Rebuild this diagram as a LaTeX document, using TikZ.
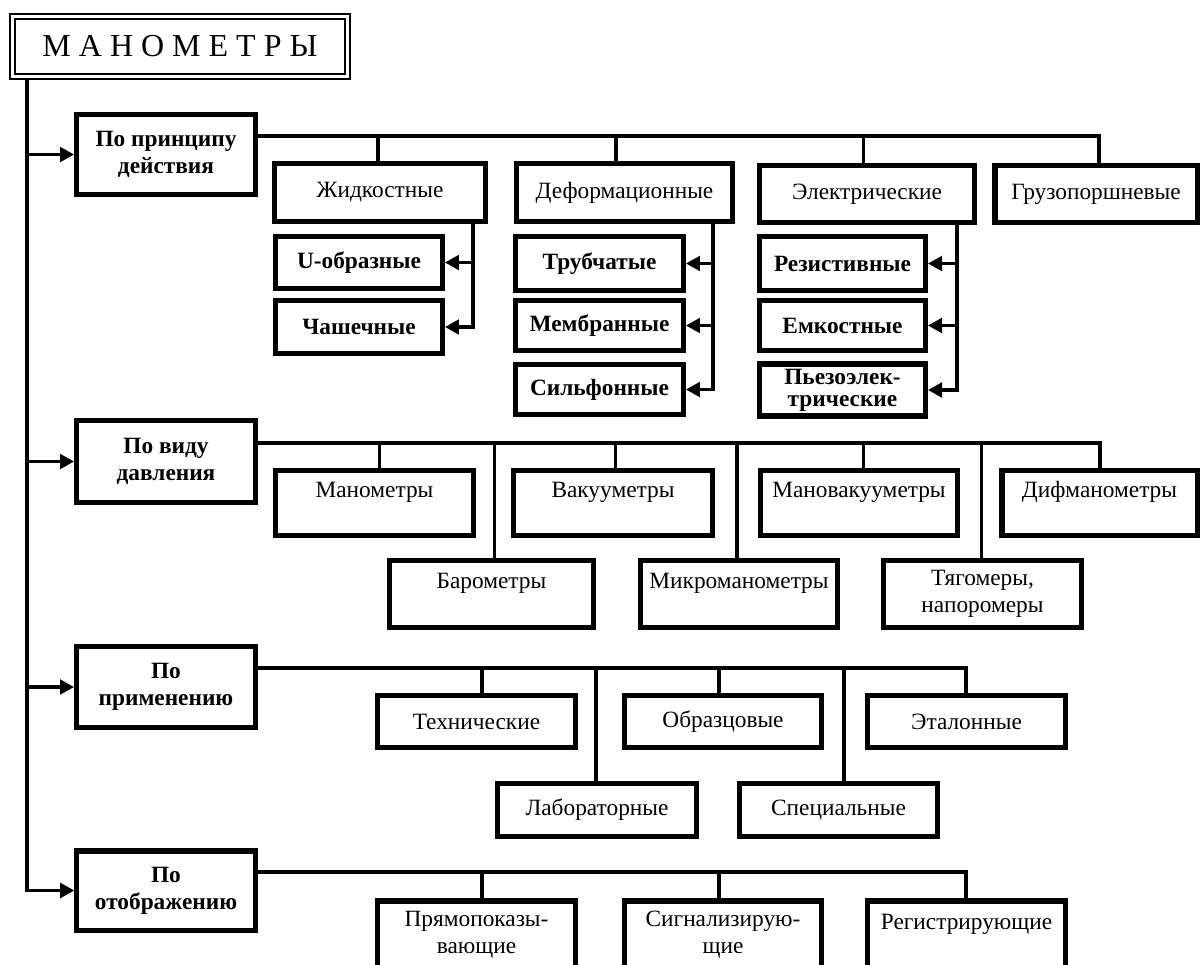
\documentclass[tikz,border=0pt]{standalone}
\usepackage{fontspec}
\setmainfont{Liberation Serif}
\usetikzlibrary{arrows.meta}
\tikzset{
  box/.style={draw, line width=4.1pt, inner sep=1pt, align=center,
    font=\fontsize{17.5}{20}\selectfont},
  boldbox/.style={box, font=\fontsize{17.5}{20}\selectfont\bfseries},
  titlebox/.style={draw, line width=1.8pt, double, double distance=2.2pt,
    inner sep=0pt, font=\fontsize{24}{28}\selectfont},
  conn/.style={line width=2.3pt},
  arr/.style={conn, -{Triangle[length=10.5pt,width=11pt]}}
}
% #1 extra style, #2 name, #3 x1, #4 y1, #5 x2, #6 y2 (outer edges, px), #7 text
\newcommand\bx[7][box]{%
  \node[#1, minimum width={(#5-#3-5.5)*0.75pt}, minimum height={(#6-#4-5.5)*0.75pt}]
    (#2) at ({(#3+#5)/2},{(#4+#6)/2}) {#7};}
\begin{document}
\begin{tikzpicture}[x=0.75pt,y=-0.75pt]
\useasboundingbox (0,0) rectangle (1201,964);
\clip (0,0) rectangle (1201,964);

% title
\node[titlebox, minimum width=335*0.75pt, minimum height=60*0.75pt] (title) at (180,46.5) {М А Н О М Е Т Р Ы};

% category boxes
\bx[boldbox]{pp}{74}{112}{258}{197}{По принципу\\действия}
\bx[boldbox]{pv}{74}{418}{258}{505}{По виду\\давления}
\bx[boldbox]{pr}{74}{644}{258}{730}{По\\применению}
\bx[boldbox]{po}{74}{848}{258}{933}{По\\отображению}

% main spine
\coordinate (spine) at (27,0);
\draw[arr] (title.south -| spine) -- (po.west -| spine) -- (po.west);
\draw[arr] (pp.west -| spine) -- (pp.west);
\draw[arr] (pv.west -| spine) -- (pv.west);
\draw[arr] (pr.west -| spine) -- (pr.west);

% ---------- row 1: principle ----------
\bx{zh}{272}{161}{488}{224}{Жидкостные}
\bx{df}{514}{161}{735}{224}{Деформационные}
\bx{el}{757}{163}{977}{225}{Электрические}
\bx{gp}{992}{163}{1200}{225}{Грузопоршневые}

\bx[boldbox]{uo}{273}{234}{445}{291}{U-образные}
\bx[boldbox]{cs}{273}{298}{445}{356}{Чашечные}
\bx[boldbox]{tr}{513}{234}{686}{293}{Трубчатые}
\bx[boldbox]{mb}{513}{298}{686}{353}{Мембранные}
\bx[boldbox]{sf}{513}{362}{686}{417}{Сильфонные}
\bx[boldbox]{rz}{757}{234}{928}{293}{Резистивные}
\bx[boldbox]{em}{757}{298}{928}{353}{Емкостные}
\bx[boldbox]{pz}{757}{363}{928}{417}{\raisebox{-7pt}{\begin{tabular}{@{}c@{}}Пьезоэлек-\\[-3pt]трические\end{tabular}}}
\draw[line width=4.1pt] ([yshift=2.05pt]pz.south west) -- ([yshift=2.05pt]pz.south east);

\coordinate (b1) at (1099,136);
\draw[conn] (pp.east |- b1) -- (b1) -- (b1 |- gp.north);
\draw[conn] ([xshift=-1.5pt]zh.north) -- ([xshift=-1.5pt]zh.north |- b1);
\draw[conn] ([xshift=-6.4pt]df.north) -- ([xshift=-6.4pt]df.north |- b1);
\draw[conn] ([xshift=-2.3pt]el.north) -- ([xshift=-2.3pt]el.north |- b1);

\coordinate (zv) at (473,0);
\coordinate (dv) at (713,0);
\coordinate (ev) at (957,0);
\draw[arr] (zh.south -| zv) -- (cs.east -| zv) -- (cs.east);
\draw[arr] (uo.east -| zv) -- (uo.east);
\draw[arr] (df.south -| dv) -- (sf.east -| dv) -- (sf.east);
\draw[arr] (tr.east -| dv) -- (tr.east);
\draw[arr] (mb.east -| dv) -- (mb.east);
\draw[arr] (el.south -| ev) -- (pz.east -| ev) -- (pz.east);
\draw[arr] (rz.east -| ev) -- (rz.east);
\draw[arr] (em.east -| ev) -- (em.east);

% ---------- row 2: pressure kind ----------
\bx{mn}{273}{468}{476}{538}{Манометры\\~}
\bx{vk}{511}{468}{715}{538}{Вакууметры\\~}
\bx{mv}{758}{468}{960}{538}{Мановакууметры\\~}
\bx{dm}{999}{468}{1200}{538}{Дифманометры\\~}
\bx{br}{387}{558}{596}{630}{Барометры\\~}
\bx{mk}{638}{558}{840}{630}{Микроманометры\\~}
\bx{tg}{881}{558}{1084}{630}{Тягомеры,\\напоромеры}

\coordinate (b2) at (1100,443);
\draw[conn] (pv.east |- b2) -- (b2) -- (b2 |- dm.north);
\draw[conn] ([xshift=3.4pt]mn.north) -- ([xshift=3.4pt]mn.north |- b2);
\draw[conn] ([xshift=1.9pt]br.north) -- ([xshift=1.9pt]br.north |- b2);
\draw[conn] ([xshift=2.2pt]vk.north) -- ([xshift=2.2pt]vk.north |- b2);
\draw[conn] ([xshift=-1.5pt]mk.north) -- ([xshift=-1.5pt]mk.north |- b2);
\draw[conn] ([xshift=3.7pt]mv.north) -- ([xshift=3.7pt]mv.north |- b2);
\draw[conn] ([xshift=-1.1pt]tg.north) -- ([xshift=-1.1pt]tg.north |- b2);

% ---------- row 3: application ----------
\bx{th}{375}{693}{578}{750}{Технические}
\bx{ob}{622}{693}{824}{750}{Образцовые}
\bx{et}{865}{693}{1068}{750}{Эталонные}
\bx{lb}{495}{781}{699}{839}{Лабораторные}
\bx{sp}{737}{781}{940}{839}{Специальные}

\coordinate (b3) at (966,668);
\draw[conn] (pr.east |- b3) -- (b3) -- (b3 |- et.north);
\draw[conn] ([xshift=4.1pt]th.north) -- ([xshift=4.1pt]th.north |- b3);
\draw[conn] ([xshift=-0.75pt]lb.north) -- ([xshift=-0.75pt]lb.north |- b3);
\draw[conn] ([xshift=-3pt]ob.north) -- ([xshift=-3pt]ob.north |- b3);
\draw[conn] ([xshift=4.1pt]sp.north) -- ([xshift=4.1pt]sp.north |- b3);

% ---------- row 4: display ----------
\bx{pk}{375}{898}{578}{972}{Прямопоказы-\\вающие}
\bx{sg}{622}{898}{824}{972}{Сигнализирую-\\щие}
\bx{rg}{865}{898}{1068}{972}{Регистрирующие\\~}

\coordinate (b4) at (966,872);
\draw[arr] (po.west -| spine) -- (po.west);
\draw[conn] (po.east |- b4) -- (b4) -- (b4 |- rg.north);
\draw[conn] ([xshift=4.1pt]pk.north) -- ([xshift=4.1pt]pk.north |- b4);
\draw[conn] ([xshift=-3pt]sg.north) -- ([xshift=-3pt]sg.north |- b4);
\end{tikzpicture}
\end{document}
